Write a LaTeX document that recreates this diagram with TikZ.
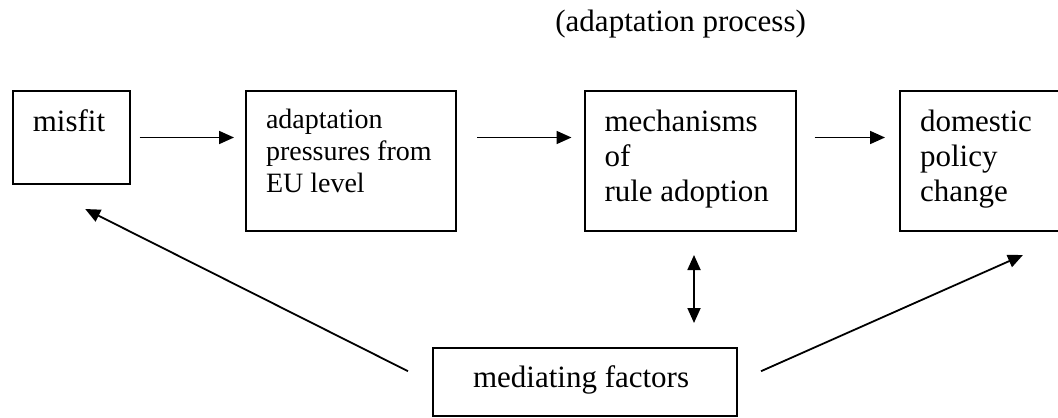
\documentclass[tikz,border=0pt]{standalone}
\usepackage{fontspec}
\setmainfont{Liberation Serif}
\usepackage{tikz}
\usetikzlibrary{arrows.meta,positioning}
\newcommand{\bigtxt}{\fontsize{15.5}{17.5}\selectfont}
\newcommand{\smalltxt}{\fontsize{14}{16}\selectfont}
\tikzset{
  box/.style={draw=black, line width=1pt, align=flush left, anchor=north west,
              inner xsep=10pt, inner ysep=0pt, font=\bigtxt},
  stagebox/.style={box, text height=20pt, text depth=50pt},
  arr/.style={-{Triangle[length=7.5pt,width=6.5pt]}, draw=black, line width=0.9pt},
  darr/.style={{Triangle[length=7.5pt,width=6.5pt]}-{Triangle[length=7.5pt,width=6.5pt]},
               draw=black, line width=0.9pt},
}
\begin{document}
\begin{tikzpicture}
  \useasboundingbox (0,0) rectangle (529pt,-208.5pt);
  % top row
  \node[box, text width=38.4pt, text height=20pt, text depth=26.5pt] (misfit)
    at (5.9pt,-45pt) {misfit};
  \node[stagebox, font=\smalltxt, text width=85pt, text height=18.85pt, text depth=51.15pt,
    right=57.2pt of misfit.north east, anchor=north west] (press)
    {adaptation\\pressures from\\EU level};
  \node[stagebox, text width=85.5pt, right=63.25pt of press.north east, anchor=north west] (mech)
    {mechanisms\\of\\rule adoption};
  \node[stagebox, text width=61.75pt, right=51.25pt of mech.north east, anchor=north west] (change)
    {domestic\\policy\\change};
  \node[font=\bigtxt, anchor=base west, inner sep=0pt] (title) at (277.5pt,-16pt)
    {(adaptation process)};
  % bottom
  \node[box, inner xsep=20pt, text width=112pt, text height=19.5pt, text depth=14.5pt] (medi)
    at (216pt,-173.5pt) {mediating factors};

  % arrows along the row
  \draw[arr, shorten <=4.5pt, shorten >=5.5pt] (misfit.east) -- (misfit.east -| press.west);
  \draw[arr, shorten <=10pt, shorten >=6pt] (misfit.east -| press.east) -- (misfit.east -| mech.west);
  \draw[arr, shorten <=9pt, shorten >=7pt] (misfit.east -| mech.east) -- (misfit.east -| change.west);
  % mediating factors
  \draw[darr, shorten <=11.5pt, shorten >=12pt] ([xshift=2pt]mech.south) -- ([xshift=2pt]mech.south |- medi.north);
  \draw[arr] ([xshift=-12pt,yshift=5.4pt]medi.west) -- ([xshift=7pt,yshift=-12pt]misfit.south);
  \draw[arr] ([xshift=11.5pt,yshift=5.4pt]medi.east) -- ([xshift=20.6pt,yshift=-11.5pt]change.south);
\end{tikzpicture}
\end{document}
